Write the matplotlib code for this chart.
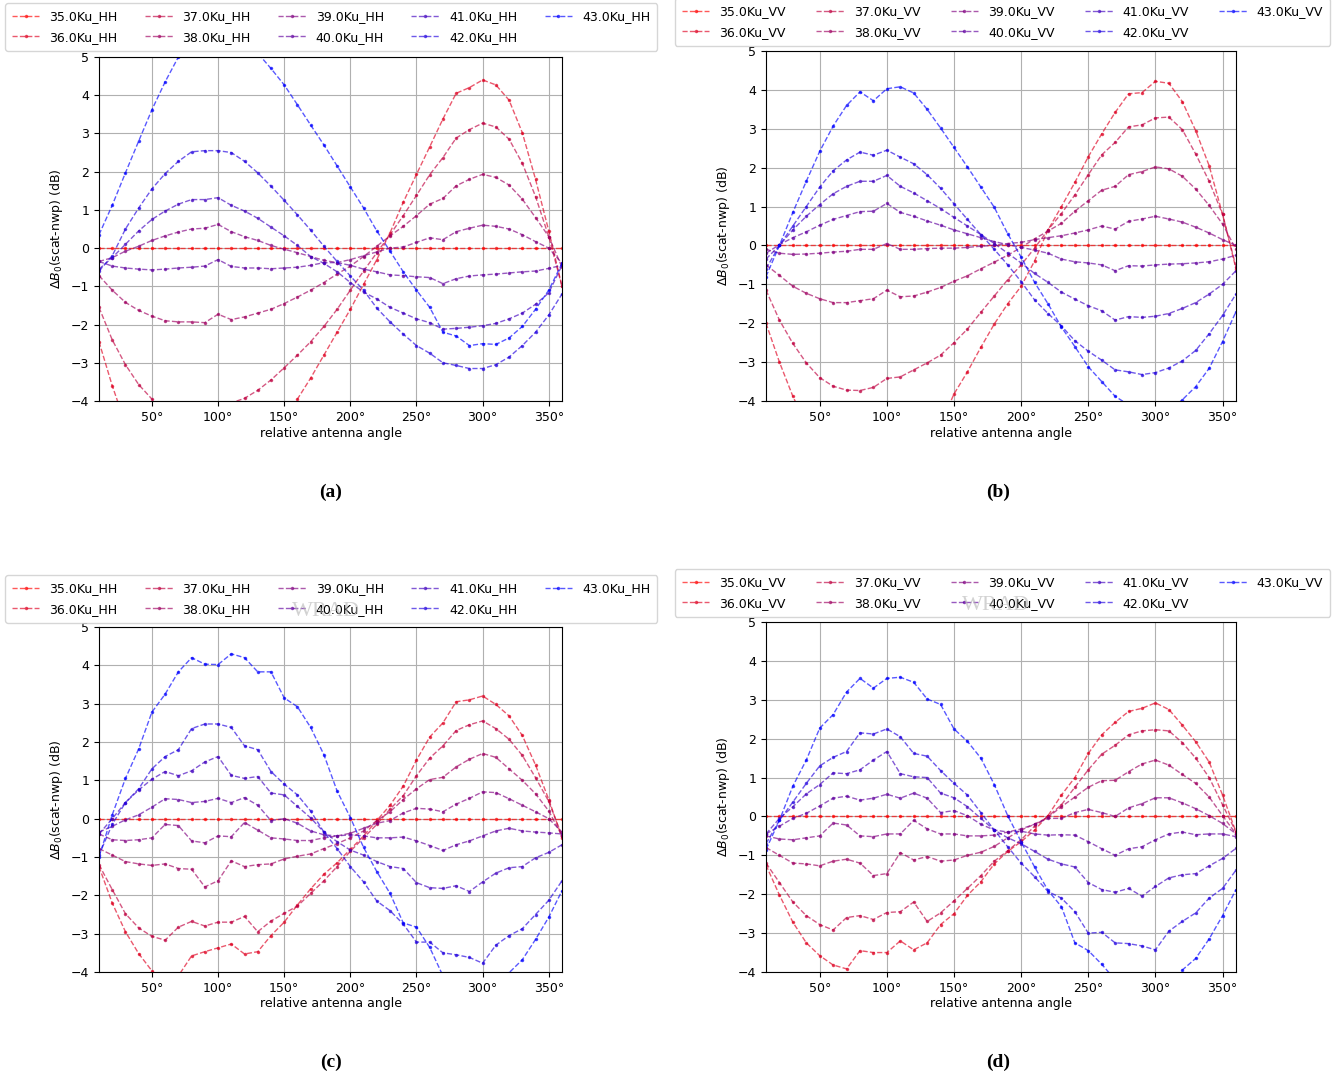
import matplotlib
matplotlib.use('Agg')
import matplotlib.pyplot as plt

# relative antenna angle (deg)
angles = [10, 20, 30, 40, 50, 60, 70, 80, 90, 100, 110, 120, 130, 140, 150, 160, 170, 180,
          190, 200, 210, 220, 230, 240, 250, 260, 270, 280, 290, 300, 310, 320, 330, 340, 350, 360]
freqs = [35.0, 36.0, 37.0, 38.0, 39.0, 40.0, 41.0, 42.0, 43.0]
xtick_vals = [50, 100, 150, 200, 250, 300, 350]
xtick_labels = ['50°', '100°', '150°', '200°', '250°', '300°', '350°']

# 35.0 is the reference incidence -> zero everywhere
ref35 = [0.0, 0.0, 0.0, 0.0, 0.0, 0.0, 0.0, 0.0, 0.0, 0.0, 0.0, 0.0, 0.0, 0.0, 0.0, 0.0, 0.0, 0.0,
         0.0, 0.0, 0.0, 0.0, 0.0, 0.0, 0.0, 0.0, 0.0, 0.0, 0.0, 0.0, 0.0, 0.0, 0.0, 0.0, 0.0, 0.0]

# ---- panel (a) HH ----
a36 = [-2.45, -3.6, -4.6, -5.4, -5.9, -6.3, -6.5, -6.6, -6.6, -6.5, -6.3, -6.0, -5.5, -5.0, -4.5, -3.95, -3.4, -2.8,
       -2.2, -1.6, -0.95, -0.3, 0.4, 1.2, 1.93, 2.65, 3.38, 4.05, 4.2, 4.4, 4.27, 3.87, 3.02, 1.8, 0.45, -1.0]
a37 = [-1.55, -2.4, -3.05, -3.57, -3.95, -4.25, -4.45, -4.55, -4.55, -4.45, -4.05, -3.93, -3.72, -3.45, -3.13, -2.8, -2.45, -2.05,
       -1.6, -1.1, -0.6, -0.12, 0.35, 0.85, 1.38, 1.92, 2.37, 2.88, 3.1, 3.27, 3.17, 2.85, 2.22, 1.35, 0.3, -1.0]
a38 = [-0.72, -1.1, -1.42, -1.63, -1.78, -1.9, -1.93, -1.93, -1.95, -1.73, -1.87, -1.8, -1.7, -1.6, -1.45, -1.28, -1.1, -0.9,
       -0.68, -0.47, -0.22, 0.05, 0.32, 0.57, 0.85, 1.15, 1.3, 1.63, 1.8, 1.93, 1.85, 1.65, 1.28, 0.8, 0.3, -0.5]
a39 = [-0.35, -0.25, -0.08, 0.05, 0.2, 0.32, 0.42, 0.5, 0.52, 0.62, 0.43, 0.3, 0.2, 0.07, -0.03, -0.12, -0.22, -0.32,
       -0.38, -0.3, -0.2, -0.1, 0.0, 0.03, 0.15, 0.27, 0.22, 0.43, 0.52, 0.6, 0.57, 0.5, 0.35, 0.17, 0.0, -0.4]
a40 = [-0.35, -0.47, -0.52, -0.55, -0.57, -0.55, -0.52, -0.5, -0.47, -0.3, -0.48, -0.52, -0.52, -0.54, -0.52, -0.5, -0.45, -0.38,
       -0.38, -0.45, -0.55, -0.62, -0.7, -0.72, -0.75, -0.77, -0.93, -0.8, -0.73, -0.7, -0.68, -0.65, -0.62, -0.6, -0.53, -0.45]
a41 = [-0.55, -0.25, 0.1, 0.45, 0.75, 0.97, 1.15, 1.27, 1.27, 1.32, 1.12, 0.97, 0.78, 0.55, 0.32, 0.07, -0.22, -0.4,
       -0.62, -0.9, -1.15, -1.33, -1.55, -1.7, -1.85, -1.95, -2.12, -2.1, -2.07, -2.03, -1.97, -1.85, -1.7, -1.47, -1.17, -0.45]
a42 = [-0.6, -0.2, 0.5, 1.05, 1.55, 1.95, 2.27, 2.52, 2.55, 2.55, 2.5, 2.27, 1.97, 1.62, 1.25, 0.87, 0.47, 0.05,
       -0.35, -0.73, -1.1, -1.57, -1.93, -2.25, -2.55, -2.75, -3.0, -3.07, -3.15, -3.15, -3.05, -2.85, -2.55, -2.2, -1.75, -1.2]
a43 = [0.35, 1.12, 1.97, 2.8, 3.62, 4.35, 5.0, 5.5, 5.8, 5.9, 5.8, 5.5, 5.1, 4.7, 4.27, 3.75, 3.22, 2.7,
       2.15, 1.6, 1.05, 0.45, -0.08, -0.62, -1.1, -1.55, -2.2, -2.3, -2.55, -2.5, -2.52, -2.35, -2.05, -1.6, -1.1, -0.4]

# ---- panel (b) VV ----
b36 = [-2.0, -3.0, -3.88, -4.6, -5.2, -5.6, -5.9, -6.0, -6.0, -5.9, -5.7, -5.4, -5.0, -4.6, -3.82, -3.25, -2.62, -2.02,
       -1.5, -1.05, -0.4, 0.4, 1.0, 1.62, 2.28, 2.87, 3.42, 3.9, 3.93, 4.22, 4.17, 3.7, 2.95, 2.05, 0.8, -0.6]
b37 = [-1.15, -1.92, -2.52, -3.02, -3.4, -3.62, -3.72, -3.73, -3.65, -3.42, -3.38, -3.2, -3.02, -2.82, -2.5, -2.15, -1.72, -1.3,
       -0.88, -0.5, -0.07, 0.4, 0.82, 1.3, 1.82, 2.33, 2.65, 3.05, 3.1, 3.28, 3.3, 2.98, 2.35, 1.65, 0.8, -0.55]
b38 = [-0.5, -0.77, -1.05, -1.23, -1.37, -1.47, -1.47, -1.42, -1.37, -1.15, -1.32, -1.3, -1.2, -1.08, -0.92, -0.78, -0.6, -0.43,
       -0.25, -0.05, 0.17, 0.37, 0.57, 0.88, 1.15, 1.42, 1.52, 1.82, 1.9, 2.02, 1.97, 1.78, 1.45, 1.03, 0.55, -0.1]
b39 = [-0.1, -0.2, -0.23, -0.22, -0.2, -0.17, -0.15, -0.1, -0.1, 0.05, -0.1, -0.1, -0.08, -0.07, -0.07, -0.05, -0.02, 0.0,
       0.05, 0.08, 0.15, 0.2, 0.25, 0.32, 0.4, 0.5, 0.42, 0.62, 0.68, 0.75, 0.68, 0.6, 0.47, 0.32, 0.15, 0.0]
b40 = [-0.2, 0.02, 0.2, 0.35, 0.52, 0.67, 0.77, 0.87, 0.88, 1.08, 0.85, 0.75, 0.63, 0.52, 0.4, 0.3, 0.2, 0.1,
       0.02, -0.05, -0.12, -0.2, -0.35, -0.42, -0.45, -0.5, -0.65, -0.52, -0.53, -0.5, -0.48, -0.47, -0.45, -0.42, -0.35, -0.25]
b41 = [-0.35, 0.0, 0.4, 0.75, 1.05, 1.33, 1.52, 1.65, 1.65, 1.8, 1.52, 1.35, 1.15, 0.95, 0.72, 0.5, 0.28, 0.05,
       -0.2, -0.45, -0.72, -0.95, -1.2, -1.38, -1.55, -1.68, -1.92, -1.83, -1.85, -1.82, -1.75, -1.62, -1.47, -1.25, -1.0, -0.65]
b42 = [-0.6, 0.0, 0.5, 1.0, 1.5, 1.92, 2.2, 2.4, 2.32, 2.45, 2.27, 2.1, 1.82, 1.47, 1.07, 0.67, 0.28, -0.1,
       -0.5, -0.93, -1.4, -1.75, -2.07, -2.45, -2.72, -2.95, -3.2, -3.25, -3.32, -3.27, -3.15, -2.97, -2.7, -2.27, -1.8, -1.25]
b43 = [-0.8, 0.0, 0.85, 1.65, 2.42, 3.07, 3.6, 3.95, 3.72, 4.03, 4.08, 3.92, 3.5, 3.02, 2.52, 2.02, 1.5, 0.98,
       0.3, -0.3, -0.95, -1.5, -2.1, -2.6, -3.12, -3.5, -3.88, -4.1, -4.3, -4.35, -4.25, -3.97, -3.63, -3.16, -2.47, -1.7]

# ---- panel (c) HH ----
c36 = [-1.25, -2.2, -2.95, -3.52, -3.97, -4.3, -4.1, -3.58, -3.47, -3.37, -3.27, -3.53, -3.47, -3.05, -2.7, -2.25, -1.83, -1.45,
       -1.15, -0.8, -0.45, -0.05, 0.35, 0.85, 1.53, 2.13, 2.5, 3.05, 3.1, 3.2, 2.98, 2.68, 2.17, 1.4, 0.5, -0.5]
c37 = [-1.2, -1.85, -2.48, -2.85, -3.07, -3.17, -2.83, -2.68, -2.8, -2.7, -2.7, -2.55, -2.95, -2.67, -2.47, -2.28, -1.95, -1.62,
       -1.25, -0.85, -0.5, -0.15, 0.25, 0.6, 1.12, 1.58, 1.9, 2.3, 2.45, 2.55, 2.35, 2.07, 1.65, 1.07, 0.45, -0.45]
c38 = [-0.78, -0.95, -1.12, -1.18, -1.22, -1.18, -1.3, -1.32, -1.78, -1.62, -1.1, -1.25, -1.2, -1.18, -1.05, -0.98, -0.92, -0.78,
       -0.65, -0.5, -0.32, -0.05, 0.18, 0.5, 0.78, 1.02, 1.08, 1.35, 1.55, 1.7, 1.6, 1.3, 1.0, 0.65, 0.2, -0.45]
c39 = [-0.4, -0.55, -0.57, -0.55, -0.5, -0.15, -0.18, -0.58, -0.63, -0.45, -0.47, -0.1, -0.3, -0.5, -0.53, -0.57, -0.57, -0.5,
       -0.45, -0.38, -0.25, -0.12, -0.05, 0.15, 0.27, 0.25, 0.18, 0.38, 0.53, 0.7, 0.68, 0.52, 0.35, 0.18, 0.0, -0.35]
c40 = [-0.35, -0.2, -0.03, 0.1, 0.3, 0.52, 0.5, 0.42, 0.45, 0.53, 0.42, 0.55, 0.35, -0.05, 0.0, -0.12, -0.32, -0.42,
       -0.45, -0.42, -0.45, -0.5, -0.5, -0.48, -0.58, -0.7, -0.83, -0.68, -0.58, -0.45, -0.32, -0.25, -0.32, -0.35, -0.37, -0.4]
c41 = [-0.4, 0.0, 0.42, 0.75, 1.03, 1.23, 1.12, 1.25, 1.48, 1.62, 1.13, 1.05, 1.1, 0.67, 0.62, 0.32, 0.02, -0.35,
       -0.6, -0.82, -0.95, -1.12, -1.25, -1.3, -1.67, -1.8, -1.82, -1.75, -1.9, -1.65, -1.42, -1.28, -1.25, -1.02, -0.88, -0.68]
c42 = [-0.95, -0.15, 0.42, 0.78, 1.3, 1.62, 1.8, 2.35, 2.47, 2.47, 2.38, 1.9, 1.8, 1.23, 0.9, 0.62, 0.2, -0.35,
       -0.78, -1.25, -1.65, -2.15, -2.4, -2.75, -3.22, -3.22, -3.5, -3.55, -3.62, -3.77, -3.3, -3.05, -2.87, -2.5, -2.13, -1.62]
c43 = [-1.0, 0.1, 1.05, 1.82, 2.78, 3.25, 3.83, 4.2, 4.03, 4.02, 4.3, 4.2, 3.83, 3.83, 3.15, 2.92, 2.38, 1.67,
       0.72, 0.03, -0.75, -1.38, -1.95, -2.72, -2.83, -3.36, -4.1, -4.4, -4.55, -4.6, -4.4, -4.02, -3.68, -3.15, -2.57, -1.88]

# ---- panel (d) VV ----
d36 = [-1.25, -2.02, -2.72, -3.25, -3.58, -3.82, -3.92, -3.45, -3.5, -3.5, -3.2, -3.43, -3.25, -2.78, -2.5, -2.03, -1.68, -1.22,
       -0.9, -0.65, -0.35, 0.02, 0.55, 1.0, 1.62, 2.1, 2.42, 2.7, 2.78, 2.92, 2.75, 2.35, 1.92, 1.4, 0.55, -0.4]
d37 = [-1.2, -1.7, -2.2, -2.55, -2.78, -2.92, -2.6, -2.55, -2.65, -2.47, -2.45, -2.2, -2.7, -2.48, -2.17, -1.85, -1.52, -1.15,
       -0.88, -0.6, -0.25, 0.0, 0.3, 0.75, 1.2, 1.6, 1.83, 2.1, 2.2, 2.23, 2.2, 1.9, 1.5, 1.0, 0.3, -0.4]
d38 = [-0.8, -1.0, -1.2, -1.22, -1.27, -1.15, -1.1, -1.2, -1.52, -1.47, -0.93, -1.12, -1.03, -1.15, -1.12, -1.0, -0.92, -0.77,
       -0.55, -0.35, -0.2, -0.02, 0.25, 0.5, 0.75, 0.92, 0.93, 1.15, 1.35, 1.45, 1.32, 1.08, 0.85, 0.5, 0.02, -0.45]
d39 = [-0.5, -0.58, -0.6, -0.55, -0.5, -0.17, -0.22, -0.5, -0.52, -0.45, -0.45, -0.1, -0.32, -0.45, -0.45, -0.5, -0.5, -0.48,
       -0.4, -0.32, -0.2, -0.05, -0.05, 0.1, 0.18, 0.1, 0.0, 0.22, 0.33, 0.48, 0.48, 0.35, 0.2, 0.02, -0.18, -0.45]
d40 = [-0.45, -0.25, -0.05, 0.08, 0.27, 0.47, 0.52, 0.42, 0.47, 0.57, 0.47, 0.6, 0.47, 0.1, 0.15, 0.02, -0.2, -0.35,
       -0.4, -0.38, -0.45, -0.48, -0.47, -0.48, -0.65, -0.83, -1.0, -0.83, -0.78, -0.6, -0.45, -0.4, -0.47, -0.45, -0.45, -0.52]
d41 = [-0.45, -0.05, 0.25, 0.58, 0.82, 1.12, 1.1, 1.2, 1.45, 1.67, 1.1, 1.02, 1.0, 0.6, 0.48, 0.25, -0.05, -0.35,
       -0.55, -0.7, -0.9, -1.1, -1.22, -1.3, -1.7, -1.88, -1.95, -1.85, -2.05, -1.8, -1.58, -1.5, -1.47, -1.27, -1.08, -0.82]
d42 = [-0.7, -0.1, 0.37, 0.85, 1.3, 1.52, 1.67, 2.15, 2.12, 2.25, 2.05, 1.62, 1.55, 1.18, 0.85, 0.55, 0.1, -0.35,
       -0.78, -1.2, -1.55, -1.93, -2.1, -2.45, -3.0, -2.98, -3.25, -3.27, -3.33, -3.43, -2.95, -2.7, -2.48, -2.1, -1.85, -1.38]
d43 = [-0.85, -0.1, 0.78, 1.45, 2.27, 2.62, 3.2, 3.55, 3.3, 3.55, 3.58, 3.45, 3.02, 2.88, 2.25, 1.93, 1.5, 0.82,
       0.02, -0.65, -1.3, -1.9, -2.32, -3.25, -3.45, -3.8, -4.2, -4.4, -4.55, -4.6, -4.45, -3.95, -3.65, -3.15, -2.55, -1.88]

W, H = 1333, 1077
fig = plt.figure(figsize=(W / 100, H / 100), dpi=100)


def px_rect(left, top, right, bottom):
    # pixel box -> figure fraction rect
    return [left / W, 1 - bottom / H, (right - left) / W, (bottom - top) / H]


def draw_panel(rect, series, pol, leg_box):
    ax = fig.add_axes(rect)
    for i, (f, vals) in enumerate(zip(freqs, series)):
        t = i / (len(freqs) - 1)
        ax.plot(angles, vals, '--', marker='.', ms=3, lw=1.0, alpha=0.65,
                color=(1 - t, 0, t), label='%.1fKu_%s' % (f, pol))
    ax.set_xlim(10, 360)
    ax.set_ylim(-4, 5)
    ax.set_xticks(xtick_vals)
    ax.set_xticklabels(xtick_labels)
    ax.set_yticks([-4, -3, -2, -1, 0, 1, 2, 3, 4, 5])
    ax.tick_params(labelsize=9)
    ax.grid(True)
    ax.set_xlabel('relative antenna angle', fontsize=9, labelpad=2)
    ax.set_ylabel(r'$\Delta B_0$(scat-nwp) (dB)', fontsize=9)
    x0, ytop, w = leg_box
    ax.legend(loc='upper left', bbox_to_anchor=(x0 / W, 1 - ytop / H, w / W, 0),
              bbox_transform=fig.transFigure, ncol=5, mode='expand', fontsize=9,
              handlelength=2.2, borderaxespad=0, borderpad=0.55, labelspacing=0.62)
    return ax


draw_panel(px_rect(99, 57, 562, 401), [ref35, a36, a37, a38, a39, a40, a41, a42, a43], 'HH', (5, 3, 652))
draw_panel(px_rect(766, 51, 1236, 401), [ref35, b36, b37, b38, b39, b40, b41, b42, b43], 'VV', (675, -2, 655))
draw_panel(px_rect(99, 627, 562, 972), [ref35, c36, c37, c38, c39, c40, c41, c42, c43], 'HH', (5, 575, 652))
draw_panel(px_rect(766, 622, 1236, 972), [ref35, d36, d37, d38, d39, d40, d41, d42, d43], 'VV', (675, 569, 655))

# faint watermark from the source images, drawn over the legend like the original
for xw, yw in [(326, 612), (996, 606)]:
    fig.text(xw / W, 1 - yw / H, 'WRAD', ha='center', va='center', color='#b4b4b4', alpha=0.6,
             fontsize=16, family='Liberation Serif')

for lab, xl, yl in [('(a)', 331, 492), ('(b)', 998, 492), ('(c)', 331, 1062), ('(d)', 998, 1062)]:
    fig.text(xl / W, 1 - yl / H, lab, ha='center', va='center', fontsize=14,
             fontweight='bold', family='Liberation Serif')

fig.savefig('out.png', dpi=100)
